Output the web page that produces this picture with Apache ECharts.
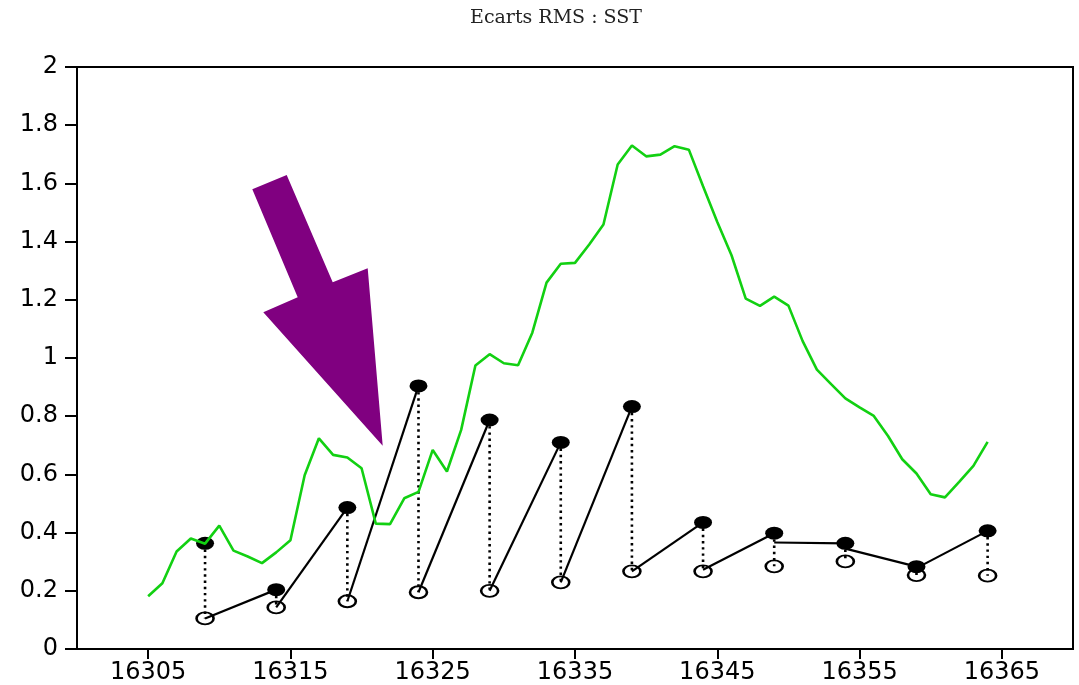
<!DOCTYPE html>
<html>
<head>
<meta charset="utf-8">
<script src="https://cdn.jsdelivr.net/npm/echarts@6/dist/echarts.min.js"></script>
<style>
  html, body { margin: 0; padding: 0; background: #fff; }
  #chart { width: 1079px; height: 685px; }
</style>
</head>
<body>
<div id="chart"></div>
<script>
// Daily RMS difference of SST (green curve), one value per day
const sstDays = [
  16305, 16306, 16307, 16308, 16309, 16310, 16311, 16312, 16313, 16314,
  16315, 16316, 16317, 16318, 16319, 16320, 16321, 16322, 16323, 16324,
  16325, 16326, 16327, 16328, 16329, 16330, 16331, 16332, 16333, 16334,
  16335, 16336, 16337, 16338, 16339, 16340, 16341, 16342, 16343, 16344,
  16345, 16346, 16347, 16348, 16349, 16350, 16351, 16352, 16353, 16354,
  16355, 16356, 16357, 16358, 16359, 16360, 16361, 16362, 16363, 16364
];
const sstRms = [
  0.181, 0.226, 0.335, 0.380, 0.362, 0.424, 0.338, 0.318, 0.295, 0.332,
  0.374, 0.597, 0.724, 0.667, 0.658, 0.621, 0.431, 0.429, 0.518, 0.540,
  0.684, 0.610, 0.753, 0.974, 1.013, 0.982, 0.975, 1.087, 1.259, 1.324,
  1.327, 1.390, 1.459, 1.665, 1.730, 1.693, 1.699, 1.728, 1.716, 1.590,
  1.467, 1.353, 1.204, 1.179, 1.211, 1.180, 1.058, 0.960, 0.910, 0.861,
  0.830, 0.801, 0.732, 0.652, 0.603, 0.532, 0.521, 0.574, 0.629, 0.712
];

// Five-day cycle: error before (filled) and after (open) each analysis
const cycleDays = [16309, 16314, 16319, 16324, 16329, 16334, 16339, 16344, 16349, 16354, 16359, 16364];
const forecastRms = [0.363, 0.204, 0.486, 0.904, 0.787, 0.710, 0.833, 0.435, 0.398, 0.363, 0.283, 0.406];
const analysisRms = [0.105, 0.143, 0.164, 0.195, 0.200, 0.229, 0.267, 0.267, 0.284, 0.301, 0.254, 0.252];
// Starting value of each forecast run (one per cycle except the last)
const runStartRms = [0.105, 0.143, 0.164, 0.195, 0.200, 0.229, 0.267, 0.272, 0.366, 0.345, 0.278];

// Axis ticks
const xTicks = [16305, 16315, 16325, 16335, 16345, 16355, 16365];
const yTicks = [0, 0.2, 0.4, 0.6, 0.8, 1, 1.2, 1.4, 1.6, 1.8, 2];

const sstData = sstDays.map((d, i) => [d, sstRms[i]]);
const forecastData = cycleDays.map((d, i) => [d, forecastRms[i]]);
const analysisData = cycleDays.map((d, i) => [d, analysisRms[i]]);
const runData = runStartRms.map((v, i) => [cycleDays[i], v, cycleDays[i + 1], forecastRms[i + 1]]);
const dropData = cycleDays.map((d, i) => [d, forecastRms[i], analysisRms[i]]);

const chart = echarts.init(document.getElementById('chart'), null, { renderer: 'canvas' });

const axisFont = { fontFamily: 'DejaVu Sans', fontSize: 24, color: '#000' };

chart.setOption({
  animation: false,
  backgroundColor: '#fff',
  title: {
    text: 'Ecarts RMS : SST',
    left: 551,
    top: 4,
    textAlign: 'center',
    textStyle: { fontFamily: 'DejaVu Serif', fontSize: 19, fontWeight: 'normal', color: '#222' }
  },
  grid: {
    left: 77, right: 6, top: 67, bottom: 35,
    show: true, borderColor: '#000', borderWidth: 2, backgroundColor: 'transparent'
  },
  xAxis: {
    type: 'value',
    min: 16300,
    max: 16370,
    axisLine: { show: true, lineStyle: { color: '#000', width: 2 } },
    axisTick: { show: true, length: 10, customValues: xTicks, lineStyle: { color: '#000', width: 2 } },
    axisLabel: { ...axisFont, margin: 12, customValues: xTicks, formatter: v => String(v) },
    splitLine: { show: false }
  },
  yAxis: {
    type: 'value',
    min: 0,
    max: 2,
    interval: 0.2,
    axisLine: { show: true, lineStyle: { color: '#000', width: 2 } },
    axisTick: { show: true, length: 12, customValues: yTicks, lineStyle: { color: '#000', width: 2 } },
    axisLabel: { ...axisFont, margin: 19, customValues: yTicks },
    splitLine: { show: false }
  },
  series: [
    {
      // dotted link between forecast and analysis error on each cycle day
      type: 'custom',
      z: 1,
      data: dropData,
      encode: { x: 0, y: [1, 2] },
      renderItem: (params, api) => {
        const a = api.coord([api.value(0), api.value(1)]);
        const b = api.coord([api.value(0), api.value(2)]);
        return {
          type: 'line',
          shape: { x1: a[0], y1: a[1], x2: b[0], y2: b[1] },
          style: { stroke: '#000', lineWidth: 2.6, lineDash: [2.4, 3.8] }
        };
      }
    },
    {
      // error growth over each five-day forecast run
      type: 'custom',
      z: 1,
      data: runData,
      encode: { x: [0, 2], y: [1, 3] },
      renderItem: (params, api) => {
        const a = api.coord([api.value(0), api.value(1)]);
        const b = api.coord([api.value(2), api.value(3)]);
        return {
          type: 'line',
          shape: { x1: a[0], y1: a[1], x2: b[0], y2: b[1] },
          style: { stroke: '#000', lineWidth: 2.2 }
        };
      }
    },
    {
      type: 'scatter',
      z: 2,
      data: forecastData,
      symbol: 'circle',
      symbolSize: [18, 13],
      itemStyle: { color: '#000', borderWidth: 0, opacity: 1 }
    },
    {
      type: 'scatter',
      z: 2,
      data: analysisData,
      symbol: 'circle',
      symbolSize: [17, 12],
      itemStyle: { color: 'rgba(0,0,0,0)', borderColor: '#000', borderWidth: 2.2, opacity: 1 }
    },
    {
      type: 'line',
      z: 3,
      data: sstData,
      showSymbol: false,
      symbol: 'none',
      lineStyle: { color: '#12d012', width: 2.6 }
    }
  ],
  graphic: [
    {
      type: 'polygon',
      z: 100,
      shape: {
        points: [
          [252.3, 189.3], [286.7, 175], [332.7, 282.3], [367.7, 268.3],
          [382.7, 445.7], [263.3, 312.3], [297.7, 297.3]
        ]
      },
      style: { fill: '#800080' }
    }
  ]
});
</script>
</body>
</html>
